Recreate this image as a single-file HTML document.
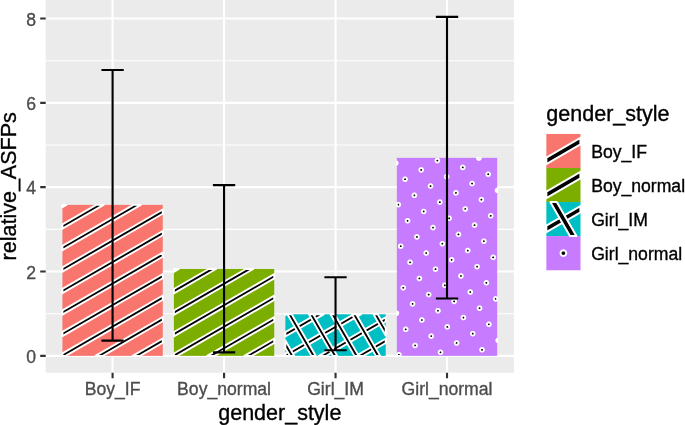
<!DOCTYPE html>
<html><head><meta charset="utf-8"><style>
html,body{margin:0;padding:0;background:#fff;width:685px;height:425px;overflow:hidden;}
svg{display:block;font-family:"Liberation Sans",sans-serif;}
svg{will-change:transform}
text{stroke-width:0.35px}
</style></head><body>
<svg width="685" height="425" viewBox="0 0 685 425" font-family="Liberation Sans, sans-serif"><rect x="45.70" y="0.00" width="468.20" height="372.70" fill="#EBEBEB"/>
<line x1="45.70" x2="513.90" y1="313.68" y2="313.68" stroke="#fff" stroke-width="1.07"/>
<line x1="45.70" x2="513.90" y1="229.34" y2="229.34" stroke="#fff" stroke-width="1.07"/>
<line x1="45.70" x2="513.90" y1="145.00" y2="145.00" stroke="#fff" stroke-width="1.07"/>
<line x1="45.70" x2="513.90" y1="60.66" y2="60.66" stroke="#fff" stroke-width="1.07"/>
<line x1="45.70" x2="513.90" y1="355.85" y2="355.85" stroke="#fff" stroke-width="2.13"/>
<line x1="45.70" x2="513.90" y1="271.51" y2="271.51" stroke="#fff" stroke-width="2.13"/>
<line x1="45.70" x2="513.90" y1="187.17" y2="187.17" stroke="#fff" stroke-width="2.13"/>
<line x1="45.70" x2="513.90" y1="102.83" y2="102.83" stroke="#fff" stroke-width="2.13"/>
<line x1="45.70" x2="513.90" y1="18.49" y2="18.49" stroke="#fff" stroke-width="2.13"/>
<line x1="112.59" x2="112.59" y1="0.00" y2="372.70" stroke="#fff" stroke-width="2.13"/>
<line x1="224.06" x2="224.06" y1="0.00" y2="372.70" stroke="#fff" stroke-width="2.13"/>
<line x1="335.54" x2="335.54" y1="0.00" y2="372.70" stroke="#fff" stroke-width="2.13"/>
<line x1="447.01" x2="447.01" y1="0.00" y2="372.70" stroke="#fff" stroke-width="2.13"/>
<rect x="62.42" y="204.88" width="100.33" height="150.97" fill="#F8766D"/>
<g fill="#000" stroke="#fff" stroke-width="1.90" stroke-linejoin="round"><polygon points="62.42,204.88 66.39,204.88 62.42,207.18"/><polygon points="62.42,224.38 96.19,204.88 103.63,204.88 62.42,228.68"/><polygon points="62.42,245.88 133.43,204.88 140.87,204.88 62.42,250.18"/><polygon points="62.42,267.38 162.75,209.46 162.75,213.75 62.42,271.68"/><polygon points="62.42,288.88 162.75,230.96 162.75,235.25 62.42,293.18"/><polygon points="62.42,310.38 162.75,252.46 162.75,256.75 62.42,314.68"/><polygon points="62.42,331.88 162.75,273.96 162.75,278.25 62.42,336.18"/><polygon points="62.42,355.85 62.42,353.38 162.75,295.46 162.75,299.75 65.59,355.85"/><polygon points="95.39,355.85 162.75,316.96 162.75,321.25 102.83,355.85"/><polygon points="132.63,355.85 162.75,338.46 162.75,342.76 140.07,355.85"/></g>
<rect x="173.90" y="268.98" width="100.33" height="86.87" fill="#7CAE00"/>
<g fill="#000" stroke="#fff" stroke-width="1.90" stroke-linejoin="round"><polygon points="173.90,268.98 178.81,268.98 173.90,271.82"/><polygon points="173.90,289.02 208.61,268.98 216.05,268.98 173.90,293.32"/><polygon points="173.90,310.52 245.85,268.98 253.29,268.98 173.90,314.82"/><polygon points="173.90,332.02 274.23,274.10 274.23,278.39 173.90,336.32"/><polygon points="173.90,355.85 173.90,353.52 274.23,295.60 274.23,299.89 177.31,355.85"/><polygon points="207.11,355.85 274.23,317.10 274.23,321.40 214.55,355.85"/><polygon points="244.35,355.85 274.23,338.60 274.23,342.90 251.79,355.85"/></g>
<rect x="285.37" y="314.31" width="100.33" height="41.54" fill="#00BFC4"/>
<g fill="#000" stroke="#fff" stroke-width="1.90" stroke-linejoin="round"><polygon points="285.37,314.31 286.49,314.31 285.37,314.96"/><polygon points="285.37,332.16 316.29,314.31 323.73,314.31 285.37,336.46"/><polygon points="285.37,355.85 285.37,353.66 353.53,314.31 360.97,314.31 289.03,355.85"/><polygon points="318.83,355.85 385.70,317.24 385.70,321.54 326.27,355.85"/><polygon points="356.07,355.85 385.70,338.74 385.70,343.04 363.51,355.85"/><polygon points="289.92,355.85 285.37,347.97 285.37,340.53 294.22,355.85"/><polygon points="311.42,355.85 287.44,314.31 291.73,314.31 315.72,355.85"/><polygon points="332.92,355.85 308.94,314.31 313.24,314.31 337.22,355.85"/><polygon points="354.42,355.85 330.44,314.31 334.74,314.31 358.72,355.85"/><polygon points="375.92,355.85 351.94,314.31 356.24,314.31 380.22,355.85"/><polygon points="385.70,335.55 373.44,314.31 377.74,314.31 385.70,328.11"/></g>
<rect x="396.85" y="157.86" width="100.33" height="197.99" fill="#C77CFF"/>
<g fill="#000" stroke="#fff" stroke-width="1.90" stroke-linejoin="round"><polygon points="400.80,354.75 400.75,355.16 400.61,355.56 400.43,355.85 397.44,355.85 397.26,355.56 397.12,355.16 397.08,354.75 397.12,354.34 397.26,353.94 397.48,353.59 397.78,353.30 398.13,353.07 398.52,352.94 398.94,352.89 399.35,352.94 399.74,353.07 400.10,353.30 400.39,353.59 400.61,353.94 400.75,354.34"/><polygon points="398.30,313.19 398.25,313.60 398.12,314.00 397.89,314.35 397.60,314.64 397.25,314.86 396.85,315.00 396.85,315.00 396.85,311.37 396.85,311.38 397.25,311.51 397.60,311.73 397.89,312.03 398.12,312.38 398.25,312.77"/><polygon points="407.61,329.31 407.56,329.73 407.43,330.12 407.20,330.47 406.91,330.77 406.56,330.99 406.16,331.13 405.75,331.17 405.34,331.13 404.94,330.99 404.59,330.77 404.30,330.47 404.07,330.12 403.94,329.73 403.89,329.31 403.94,328.90 404.07,328.51 404.30,328.15 404.59,327.86 404.94,327.64 405.34,327.50 405.75,327.45 406.16,327.50 406.56,327.64 406.91,327.86 407.20,328.15 407.43,328.51 407.56,328.90"/><polygon points="416.92,345.44 416.87,345.85 416.74,346.25 416.51,346.60 416.22,346.89 415.87,347.12 415.47,347.25 415.06,347.30 414.65,347.25 414.25,347.12 413.90,346.89 413.61,346.60 413.38,346.25 413.25,345.85 413.20,345.44 413.25,345.03 413.38,344.63 413.61,344.28 413.90,343.99 414.25,343.76 414.65,343.63 415.06,343.58 415.47,343.63 415.87,343.76 416.22,343.99 416.51,344.28 416.74,344.63 416.87,345.03"/><polygon points="405.12,287.75 405.07,288.17 404.93,288.56 404.71,288.91 404.42,289.21 404.06,289.43 403.67,289.57 403.26,289.61 402.84,289.57 402.45,289.43 402.10,289.21 401.80,288.91 401.58,288.56 401.44,288.17 401.40,287.75 401.44,287.34 401.58,286.95 401.80,286.59 402.10,286.30 402.45,286.08 402.84,285.94 403.26,285.89 403.67,285.94 404.06,286.08 404.42,286.30 404.71,286.59 404.93,286.95 405.07,287.34"/><polygon points="414.43,303.88 414.38,304.29 414.24,304.69 414.02,305.04 413.73,305.33 413.37,305.55 412.98,305.69 412.57,305.74 412.15,305.69 411.76,305.55 411.41,305.33 411.11,305.04 410.89,304.69 410.75,304.29 410.71,303.88 410.75,303.46 410.89,303.07 411.11,302.72 411.41,302.42 411.76,302.20 412.15,302.07 412.57,302.02 412.98,302.07 413.37,302.20 413.73,302.42 414.02,302.72 414.24,303.07 414.38,303.46"/><polygon points="423.74,320.00 423.69,320.42 423.55,320.81 423.33,321.16 423.04,321.46 422.68,321.68 422.29,321.82 421.88,321.86 421.46,321.82 421.07,321.68 420.72,321.46 420.42,321.16 420.20,320.81 420.06,320.42 420.02,320.00 420.06,319.59 420.20,319.20 420.42,318.84 420.72,318.55 421.07,318.33 421.46,318.19 421.88,318.14 422.29,318.19 422.68,318.33 423.04,318.55 423.33,318.84 423.55,319.20 423.69,319.59"/><polygon points="433.05,336.13 433.00,336.54 432.86,336.94 432.64,337.29 432.35,337.58 431.99,337.81 431.60,337.94 431.19,337.99 430.77,337.94 430.38,337.81 430.03,337.58 429.73,337.29 429.51,336.94 429.37,336.54 429.33,336.13 429.37,335.72 429.51,335.32 429.73,334.97 430.03,334.68 430.38,334.45 430.77,334.32 431.19,334.27 431.60,334.32 431.99,334.45 432.35,334.68 432.64,334.97 432.86,335.32 433.00,335.72"/><polygon points="442.36,352.25 442.31,352.67 442.17,353.06 441.95,353.41 441.66,353.71 441.30,353.93 440.91,354.07 440.50,354.11 440.08,354.07 439.69,353.93 439.34,353.71 439.04,353.41 438.82,353.06 438.68,352.67 438.64,352.25 438.68,351.84 438.82,351.45 439.04,351.10 439.34,350.80 439.69,350.58 440.08,350.44 440.50,350.39 440.91,350.44 441.30,350.58 441.66,350.80 441.95,351.10 442.17,351.45 442.31,351.84"/><polygon points="402.62,246.19 402.57,246.61 402.44,247.00 402.22,247.35 401.92,247.65 401.57,247.87 401.18,248.01 400.76,248.05 400.35,248.01 399.95,247.87 399.60,247.65 399.31,247.35 399.09,247.00 398.95,246.61 398.90,246.19 398.95,245.78 399.09,245.39 399.31,245.03 399.60,244.74 399.95,244.52 400.35,244.38 400.76,244.33 401.18,244.38 401.57,244.52 401.92,244.74 402.22,245.03 402.44,245.39 402.57,245.78"/><polygon points="411.93,262.32 411.88,262.73 411.75,263.12 411.53,263.48 411.23,263.77 410.88,263.99 410.49,264.13 410.07,264.18 409.66,264.13 409.26,263.99 408.91,263.77 408.62,263.48 408.40,263.12 408.26,262.73 408.21,262.32 408.26,261.90 408.40,261.51 408.62,261.16 408.91,260.86 409.26,260.64 409.66,260.50 410.07,260.46 410.49,260.50 410.88,260.64 411.23,260.86 411.53,261.16 411.75,261.51 411.88,261.90"/><polygon points="421.24,278.44 421.19,278.86 421.06,279.25 420.84,279.60 420.54,279.90 420.19,280.12 419.80,280.26 419.38,280.30 418.97,280.26 418.57,280.12 418.22,279.90 417.93,279.60 417.71,279.25 417.57,278.86 417.52,278.44 417.57,278.03 417.71,277.64 417.93,277.28 418.22,276.99 418.57,276.77 418.97,276.63 419.38,276.58 419.80,276.63 420.19,276.77 420.54,276.99 420.84,277.28 421.06,277.64 421.19,278.03"/><polygon points="430.55,294.57 430.50,294.98 430.37,295.38 430.15,295.73 429.85,296.02 429.50,296.24 429.11,296.38 428.69,296.43 428.28,296.38 427.88,296.24 427.53,296.02 427.24,295.73 427.02,295.38 426.88,294.98 426.83,294.57 426.88,294.15 427.02,293.76 427.24,293.41 427.53,293.11 427.88,292.89 428.28,292.76 428.69,292.71 429.11,292.76 429.50,292.89 429.85,293.11 430.15,293.41 430.37,293.76 430.50,294.15"/><polygon points="439.86,310.69 439.81,311.11 439.68,311.50 439.46,311.85 439.16,312.15 438.81,312.37 438.42,312.51 438.00,312.55 437.59,312.51 437.19,312.37 436.84,312.15 436.55,311.85 436.33,311.50 436.19,311.11 436.14,310.69 436.19,310.28 436.33,309.89 436.55,309.53 436.84,309.24 437.19,309.02 437.59,308.88 438.00,308.83 438.42,308.88 438.81,309.02 439.16,309.24 439.46,309.53 439.68,309.89 439.81,310.28"/><polygon points="449.17,326.82 449.12,327.23 448.99,327.63 448.77,327.98 448.47,328.27 448.12,328.50 447.73,328.63 447.31,328.68 446.90,328.63 446.50,328.50 446.15,328.27 445.86,327.98 445.64,327.63 445.50,327.23 445.45,326.82 445.50,326.41 445.64,326.01 445.86,325.66 446.15,325.37 446.50,325.14 446.90,325.01 447.31,324.96 447.73,325.01 448.12,325.14 448.47,325.37 448.77,325.66 448.99,326.01 449.12,326.41"/><polygon points="458.48,342.94 458.43,343.36 458.30,343.75 458.08,344.10 457.78,344.40 457.43,344.62 457.04,344.76 456.62,344.80 456.21,344.76 455.81,344.62 455.46,344.40 455.17,344.10 454.95,343.75 454.81,343.36 454.76,342.94 454.81,342.53 454.95,342.14 455.17,341.79 455.46,341.49 455.81,341.27 456.21,341.13 456.62,341.08 457.04,341.13 457.43,341.27 457.78,341.49 458.08,341.79 458.30,342.14 458.43,342.53"/><polygon points="400.13,204.63 400.08,205.05 399.94,205.44 399.72,205.79 399.43,206.09 399.07,206.31 398.68,206.44 398.27,206.49 397.85,206.44 397.46,206.31 397.11,206.09 396.85,205.83 396.85,203.43 397.11,203.18 397.46,202.96 397.85,202.82 398.27,202.77 398.68,202.82 399.07,202.96 399.43,203.18 399.72,203.47 399.94,203.82 400.08,204.22"/><polygon points="409.44,220.76 409.39,221.17 409.25,221.56 409.03,221.92 408.74,222.21 408.38,222.43 407.99,222.57 407.58,222.62 407.16,222.57 406.77,222.43 406.42,222.21 406.12,221.92 405.90,221.56 405.76,221.17 405.72,220.76 405.76,220.34 405.90,219.95 406.12,219.60 406.42,219.30 406.77,219.08 407.16,218.94 407.58,218.90 407.99,218.94 408.38,219.08 408.74,219.30 409.03,219.60 409.25,219.95 409.39,220.34"/><polygon points="418.75,236.88 418.70,237.30 418.56,237.69 418.34,238.04 418.05,238.34 417.69,238.56 417.30,238.70 416.89,238.74 416.47,238.70 416.08,238.56 415.73,238.34 415.43,238.04 415.21,237.69 415.07,237.30 415.03,236.88 415.07,236.47 415.21,236.08 415.43,235.72 415.73,235.43 416.08,235.21 416.47,235.07 416.89,235.02 417.30,235.07 417.69,235.21 418.05,235.43 418.34,235.72 418.56,236.08 418.70,236.47"/><polygon points="428.06,253.01 428.01,253.42 427.87,253.81 427.65,254.17 427.36,254.46 427.00,254.68 426.61,254.82 426.20,254.87 425.78,254.82 425.39,254.68 425.04,254.46 424.74,254.17 424.52,253.81 424.38,253.42 424.34,253.01 424.38,252.59 424.52,252.20 424.74,251.85 425.04,251.55 425.39,251.33 425.78,251.19 426.20,251.15 426.61,251.19 427.00,251.33 427.36,251.55 427.65,251.85 427.87,252.20 428.01,252.59"/><polygon points="437.37,269.13 437.32,269.55 437.18,269.94 436.96,270.29 436.67,270.59 436.31,270.81 435.92,270.95 435.51,270.99 435.09,270.95 434.70,270.81 434.35,270.59 434.05,270.29 433.83,269.94 433.69,269.55 433.65,269.13 433.69,268.72 433.83,268.33 434.05,267.97 434.35,267.68 434.70,267.46 435.09,267.32 435.51,267.27 435.92,267.32 436.31,267.46 436.67,267.68 436.96,267.97 437.18,268.33 437.32,268.72"/><polygon points="446.68,285.26 446.63,285.67 446.49,286.07 446.27,286.42 445.98,286.71 445.62,286.93 445.23,287.07 444.82,287.12 444.40,287.07 444.01,286.93 443.66,286.71 443.36,286.42 443.14,286.07 443.00,285.67 442.96,285.26 443.00,284.84 443.14,284.45 443.36,284.10 443.66,283.80 444.01,283.58 444.40,283.45 444.82,283.40 445.23,283.45 445.62,283.58 445.98,283.80 446.27,284.10 446.49,284.45 446.63,284.84"/><polygon points="455.99,301.38 455.94,301.80 455.80,302.19 455.58,302.54 455.29,302.84 454.93,303.06 454.54,303.20 454.13,303.24 453.71,303.20 453.32,303.06 452.97,302.84 452.67,302.54 452.45,302.19 452.31,301.80 452.27,301.38 452.31,300.97 452.45,300.58 452.67,300.22 452.97,299.93 453.32,299.71 453.71,299.57 454.13,299.52 454.54,299.57 454.93,299.71 455.29,299.93 455.58,300.22 455.80,300.58 455.94,300.97"/><polygon points="465.30,317.51 465.25,317.92 465.11,318.32 464.89,318.67 464.60,318.96 464.24,319.19 463.85,319.32 463.44,319.37 463.02,319.32 462.63,319.19 462.28,318.96 461.98,318.67 461.76,318.32 461.62,317.92 461.58,317.51 461.62,317.10 461.76,316.70 461.98,316.35 462.28,316.06 462.63,315.83 463.02,315.70 463.44,315.65 463.85,315.70 464.24,315.83 464.60,316.06 464.89,316.35 465.11,316.70 465.25,317.10"/><polygon points="474.61,333.63 474.56,334.05 474.42,334.44 474.20,334.79 473.91,335.09 473.55,335.31 473.16,335.45 472.75,335.49 472.33,335.45 471.94,335.31 471.59,335.09 471.29,334.79 471.07,334.44 470.93,334.05 470.89,333.63 470.93,333.22 471.07,332.83 471.29,332.48 471.59,332.18 471.94,331.96 472.33,331.82 472.75,331.77 473.16,331.82 473.55,331.96 473.91,332.18 474.20,332.48 474.42,332.83 474.56,333.22"/><polygon points="483.92,349.76 483.87,350.17 483.73,350.57 483.51,350.92 483.22,351.21 482.86,351.44 482.47,351.57 482.06,351.62 481.64,351.57 481.25,351.44 480.90,351.21 480.60,350.92 480.38,350.57 480.24,350.17 480.20,349.76 480.24,349.35 480.38,348.95 480.60,348.60 480.90,348.31 481.25,348.08 481.64,347.95 482.06,347.90 482.47,347.95 482.86,348.08 483.22,348.31 483.51,348.60 483.73,348.95 483.87,349.35"/><polygon points="397.63,163.07 397.59,163.48 397.45,163.88 397.23,164.23 396.93,164.52 396.85,164.58 396.85,161.57 396.93,161.62 397.23,161.91 397.45,162.26 397.59,162.66"/><polygon points="406.94,179.20 406.90,179.61 406.76,180.00 406.54,180.36 406.24,180.65 405.89,180.87 405.50,181.01 405.08,181.06 404.67,181.01 404.28,180.87 403.92,180.65 403.63,180.36 403.41,180.00 403.27,179.61 403.22,179.20 403.27,178.78 403.41,178.39 403.63,178.04 403.92,177.74 404.28,177.52 404.67,177.38 405.08,177.34 405.50,177.38 405.89,177.52 406.24,177.74 406.54,178.04 406.76,178.39 406.90,178.78"/><polygon points="416.25,195.32 416.21,195.74 416.07,196.13 415.85,196.48 415.55,196.78 415.20,197.00 414.81,197.13 414.39,197.18 413.98,197.13 413.59,197.00 413.23,196.78 412.94,196.48 412.72,196.13 412.58,195.74 412.53,195.32 412.58,194.91 412.72,194.51 412.94,194.16 413.23,193.87 413.59,193.65 413.98,193.51 414.39,193.46 414.81,193.51 415.20,193.65 415.55,193.87 415.85,194.16 416.07,194.51 416.21,194.91"/><polygon points="425.56,211.45 425.52,211.86 425.38,212.25 425.16,212.61 424.86,212.90 424.51,213.12 424.12,213.26 423.70,213.31 423.29,213.26 422.90,213.12 422.54,212.90 422.25,212.61 422.03,212.25 421.89,211.86 421.84,211.45 421.89,211.03 422.03,210.64 422.25,210.29 422.54,209.99 422.90,209.77 423.29,209.63 423.70,209.59 424.12,209.63 424.51,209.77 424.86,209.99 425.16,210.29 425.38,210.64 425.52,211.03"/><polygon points="434.87,227.57 434.83,227.99 434.69,228.38 434.47,228.73 434.17,229.03 433.82,229.25 433.43,229.39 433.01,229.43 432.60,229.39 432.21,229.25 431.85,229.03 431.56,228.73 431.34,228.38 431.20,227.99 431.15,227.57 431.20,227.16 431.34,226.77 431.56,226.41 431.85,226.12 432.21,225.90 432.60,225.76 433.01,225.71 433.43,225.76 433.82,225.90 434.17,226.12 434.47,226.41 434.69,226.77 434.83,227.16"/><polygon points="444.18,243.70 444.14,244.11 444.00,244.50 443.78,244.86 443.48,245.15 443.13,245.37 442.74,245.51 442.32,245.56 441.91,245.51 441.52,245.37 441.16,245.15 440.87,244.86 440.65,244.50 440.51,244.11 440.46,243.70 440.51,243.28 440.65,242.89 440.87,242.54 441.16,242.24 441.52,242.02 441.91,241.88 442.32,241.84 442.74,241.88 443.13,242.02 443.48,242.24 443.78,242.54 444.00,242.89 444.14,243.28"/><polygon points="453.49,259.82 453.45,260.24 453.31,260.63 453.09,260.98 452.79,261.28 452.44,261.50 452.05,261.64 451.63,261.68 451.22,261.64 450.83,261.50 450.47,261.28 450.18,260.98 449.96,260.63 449.82,260.24 449.77,259.82 449.82,259.41 449.96,259.02 450.18,258.66 450.47,258.37 450.83,258.15 451.22,258.01 451.63,257.96 452.05,258.01 452.44,258.15 452.79,258.37 453.09,258.66 453.31,259.02 453.45,259.41"/><polygon points="462.80,275.95 462.76,276.36 462.62,276.76 462.40,277.11 462.10,277.40 461.75,277.62 461.36,277.76 460.94,277.81 460.53,277.76 460.14,277.62 459.78,277.40 459.49,277.11 459.27,276.76 459.13,276.36 459.08,275.95 459.13,275.53 459.27,275.14 459.49,274.79 459.78,274.49 460.14,274.27 460.53,274.14 460.94,274.09 461.36,274.14 461.75,274.27 462.10,274.49 462.40,274.79 462.62,275.14 462.76,275.53"/><polygon points="472.11,292.07 472.07,292.49 471.93,292.88 471.71,293.23 471.41,293.53 471.06,293.75 470.67,293.89 470.25,293.93 469.84,293.89 469.45,293.75 469.09,293.53 468.80,293.23 468.58,292.88 468.44,292.49 468.39,292.07 468.44,291.66 468.58,291.27 468.80,290.91 469.09,290.62 469.45,290.40 469.84,290.26 470.25,290.21 470.67,290.26 471.06,290.40 471.41,290.62 471.71,290.91 471.93,291.27 472.07,291.66"/><polygon points="481.42,308.20 481.38,308.61 481.24,309.01 481.02,309.36 480.72,309.65 480.37,309.88 479.98,310.01 479.56,310.06 479.15,310.01 478.76,309.88 478.40,309.65 478.11,309.36 477.89,309.01 477.75,308.61 477.70,308.20 477.75,307.79 477.89,307.39 478.11,307.04 478.40,306.75 478.76,306.52 479.15,306.39 479.56,306.34 479.98,306.39 480.37,306.52 480.72,306.75 481.02,307.04 481.24,307.39 481.38,307.79"/><polygon points="490.73,324.32 490.69,324.74 490.55,325.13 490.33,325.48 490.03,325.78 489.68,326.00 489.29,326.14 488.87,326.18 488.46,326.14 488.07,326.00 487.71,325.78 487.42,325.48 487.20,325.13 487.06,324.74 487.01,324.32 487.06,323.91 487.20,323.52 487.42,323.17 487.71,322.87 488.07,322.65 488.46,322.51 488.87,322.46 489.29,322.51 489.68,322.65 490.03,322.87 490.33,323.17 490.55,323.52 490.69,323.91"/><polygon points="497.18,342.00 497.02,341.90 496.73,341.61 496.51,341.26 496.37,340.86 496.32,340.45 496.37,340.04 496.51,339.64 496.73,339.29 497.02,339.00 497.18,338.90"/><polygon points="423.07,169.89 423.02,170.30 422.88,170.69 422.66,171.05 422.37,171.34 422.01,171.56 421.62,171.70 421.21,171.75 420.79,171.70 420.40,171.56 420.05,171.34 419.75,171.05 419.53,170.69 419.39,170.30 419.35,169.89 419.39,169.47 419.53,169.08 419.75,168.73 420.05,168.43 420.40,168.21 420.79,168.07 421.21,168.03 421.62,168.07 422.01,168.21 422.37,168.43 422.66,168.73 422.88,169.08 423.02,169.47"/><polygon points="432.38,186.01 432.33,186.43 432.19,186.82 431.97,187.17 431.68,187.47 431.32,187.69 430.93,187.82 430.52,187.87 430.10,187.82 429.71,187.69 429.36,187.47 429.06,187.17 428.84,186.82 428.70,186.43 428.66,186.01 428.70,185.60 428.84,185.20 429.06,184.85 429.36,184.56 429.71,184.34 430.10,184.20 430.52,184.15 430.93,184.20 431.32,184.34 431.68,184.56 431.97,184.85 432.19,185.20 432.33,185.60"/><polygon points="441.69,202.14 441.64,202.55 441.50,202.94 441.28,203.30 440.99,203.59 440.63,203.81 440.24,203.95 439.83,204.00 439.41,203.95 439.02,203.81 438.67,203.59 438.37,203.30 438.15,202.94 438.01,202.55 437.97,202.14 438.01,201.72 438.15,201.33 438.37,200.98 438.67,200.68 439.02,200.46 439.41,200.32 439.83,200.28 440.24,200.32 440.63,200.46 440.99,200.68 441.28,200.98 441.50,201.33 441.64,201.72"/><polygon points="451.00,218.26 450.95,218.68 450.81,219.07 450.59,219.42 450.30,219.72 449.94,219.94 449.55,220.08 449.14,220.12 448.72,220.08 448.33,219.94 447.98,219.72 447.68,219.42 447.46,219.07 447.32,218.68 447.28,218.26 447.32,217.85 447.46,217.46 447.68,217.10 447.98,216.81 448.33,216.59 448.72,216.45 449.14,216.40 449.55,216.45 449.94,216.59 450.30,216.81 450.59,217.10 450.81,217.46 450.95,217.85"/><polygon points="460.31,234.39 460.26,234.80 460.12,235.19 459.90,235.55 459.61,235.84 459.25,236.06 458.86,236.20 458.45,236.25 458.03,236.20 457.64,236.06 457.29,235.84 456.99,235.55 456.77,235.19 456.63,234.80 456.59,234.39 456.63,233.97 456.77,233.58 456.99,233.23 457.29,232.93 457.64,232.71 458.03,232.57 458.45,232.53 458.86,232.57 459.25,232.71 459.61,232.93 459.90,233.23 460.12,233.58 460.26,233.97"/><polygon points="469.62,250.51 469.57,250.93 469.43,251.32 469.21,251.67 468.92,251.97 468.56,252.19 468.17,252.33 467.76,252.37 467.34,252.33 466.95,252.19 466.60,251.97 466.30,251.67 466.08,251.32 465.94,250.93 465.90,250.51 465.94,250.10 466.08,249.71 466.30,249.35 466.60,249.06 466.95,248.84 467.34,248.70 467.76,248.65 468.17,248.70 468.56,248.84 468.92,249.06 469.21,249.35 469.43,249.71 469.57,250.10"/><polygon points="478.93,266.64 478.88,267.05 478.74,267.45 478.52,267.80 478.23,268.09 477.87,268.31 477.48,268.45 477.07,268.50 476.65,268.45 476.26,268.31 475.91,268.09 475.61,267.80 475.39,267.45 475.25,267.05 475.21,266.64 475.25,266.22 475.39,265.83 475.61,265.48 475.91,265.18 476.26,264.96 476.65,264.83 477.07,264.78 477.48,264.83 477.87,264.96 478.23,265.18 478.52,265.48 478.74,265.83 478.88,266.22"/><polygon points="488.24,282.76 488.19,283.18 488.05,283.57 487.83,283.92 487.54,284.22 487.18,284.44 486.79,284.58 486.38,284.62 485.96,284.58 485.57,284.44 485.22,284.22 484.92,283.92 484.70,283.57 484.56,283.18 484.52,282.76 484.56,282.35 484.70,281.96 484.92,281.60 485.22,281.31 485.57,281.09 485.96,280.95 486.38,280.90 486.79,280.95 487.18,281.09 487.54,281.31 487.83,281.60 488.05,281.96 488.19,282.35"/><polygon points="497.18,299.99 497.14,300.05 496.85,300.34 496.49,300.57 496.10,300.70 495.69,300.75 495.27,300.70 494.88,300.57 494.53,300.34 494.23,300.05 494.01,299.70 493.87,299.30 493.83,298.89 493.87,298.48 494.01,298.08 494.23,297.73 494.53,297.44 494.88,297.21 495.27,297.08 495.69,297.03 496.10,297.08 496.49,297.21 496.85,297.44 497.14,297.73 497.18,297.79"/><polygon points="439.19,160.58 439.15,160.99 439.01,161.38 438.79,161.74 438.49,162.03 438.14,162.25 437.75,162.39 437.33,162.44 436.92,162.39 436.53,162.25 436.17,162.03 435.88,161.74 435.66,161.38 435.52,160.99 435.47,160.58 435.52,160.16 435.66,159.77 435.88,159.42 436.17,159.12 436.53,158.90 436.92,158.76 437.33,158.72 437.75,158.76 438.14,158.90 438.49,159.12 438.79,159.42 439.01,159.77 439.15,160.16"/><polygon points="448.50,176.70 448.46,177.12 448.32,177.51 448.10,177.86 447.80,178.16 447.45,178.38 447.06,178.51 446.64,178.56 446.23,178.51 445.84,178.38 445.48,178.16 445.19,177.86 444.97,177.51 444.83,177.12 444.78,176.70 444.83,176.29 444.97,175.89 445.19,175.54 445.48,175.25 445.84,175.03 446.23,174.89 446.64,174.84 447.06,174.89 447.45,175.03 447.80,175.25 448.10,175.54 448.32,175.89 448.46,176.29"/><polygon points="457.81,192.83 457.77,193.24 457.63,193.63 457.41,193.99 457.11,194.28 456.76,194.50 456.37,194.64 455.95,194.69 455.54,194.64 455.15,194.50 454.79,194.28 454.50,193.99 454.28,193.63 454.14,193.24 454.09,192.83 454.14,192.41 454.28,192.02 454.50,191.67 454.79,191.37 455.15,191.15 455.54,191.01 455.95,190.97 456.37,191.01 456.76,191.15 457.11,191.37 457.41,191.67 457.63,192.02 457.77,192.41"/><polygon points="467.12,208.95 467.08,209.37 466.94,209.76 466.72,210.11 466.42,210.41 466.07,210.63 465.68,210.77 465.26,210.81 464.85,210.77 464.46,210.63 464.10,210.41 463.81,210.11 463.59,209.76 463.45,209.37 463.40,208.95 463.45,208.54 463.59,208.15 463.81,207.79 464.10,207.50 464.46,207.28 464.85,207.14 465.26,207.09 465.68,207.14 466.07,207.28 466.42,207.50 466.72,207.79 466.94,208.15 467.08,208.54"/><polygon points="476.43,225.08 476.39,225.49 476.25,225.88 476.03,226.24 475.73,226.53 475.38,226.75 474.99,226.89 474.57,226.94 474.16,226.89 473.77,226.75 473.41,226.53 473.12,226.24 472.90,225.88 472.76,225.49 472.71,225.08 472.76,224.66 472.90,224.27 473.12,223.92 473.41,223.62 473.77,223.40 474.16,223.26 474.57,223.22 474.99,223.26 475.38,223.40 475.73,223.62 476.03,223.92 476.25,224.27 476.39,224.66"/><polygon points="485.74,241.20 485.70,241.62 485.56,242.01 485.34,242.36 485.04,242.66 484.69,242.88 484.30,243.02 483.88,243.06 483.47,243.02 483.08,242.88 482.72,242.66 482.43,242.36 482.21,242.01 482.07,241.62 482.02,241.20 482.07,240.79 482.21,240.40 482.43,240.04 482.72,239.75 483.08,239.53 483.47,239.39 483.88,239.34 484.30,239.39 484.69,239.53 485.04,239.75 485.34,240.04 485.56,240.40 485.70,240.79"/><polygon points="495.05,257.33 495.01,257.74 494.87,258.14 494.65,258.49 494.35,258.78 494.00,259.00 493.61,259.14 493.19,259.19 492.78,259.14 492.39,259.00 492.03,258.78 491.74,258.49 491.52,258.14 491.38,257.74 491.33,257.33 491.38,256.91 491.52,256.52 491.74,256.17 492.03,255.87 492.39,255.65 492.78,255.52 493.19,255.47 493.61,255.52 494.00,255.65 494.35,255.87 494.65,256.17 494.87,256.52 495.01,256.91"/><polygon points="464.63,167.39 464.58,167.81 464.44,168.20 464.22,168.55 463.93,168.85 463.58,169.07 463.18,169.20 462.77,169.25 462.35,169.20 461.96,169.07 461.61,168.85 461.31,168.55 461.09,168.20 460.96,167.81 460.91,167.39 460.96,166.98 461.09,166.58 461.31,166.23 461.61,165.94 461.96,165.72 462.35,165.58 462.77,165.53 463.18,165.58 463.58,165.72 463.93,165.94 464.22,166.23 464.44,166.58 464.58,166.98"/><polygon points="473.94,183.52 473.89,183.93 473.75,184.32 473.53,184.68 473.24,184.97 472.89,185.19 472.49,185.33 472.08,185.38 471.66,185.33 471.27,185.19 470.92,184.97 470.62,184.68 470.40,184.32 470.27,183.93 470.22,183.52 470.27,183.10 470.40,182.71 470.62,182.36 470.92,182.06 471.27,181.84 471.66,181.70 472.08,181.66 472.49,181.70 472.89,181.84 473.24,182.06 473.53,182.36 473.75,182.71 473.89,183.10"/><polygon points="483.25,199.64 483.20,200.06 483.06,200.45 482.84,200.80 482.55,201.10 482.20,201.32 481.80,201.46 481.39,201.50 480.97,201.46 480.58,201.32 480.23,201.10 479.93,200.80 479.71,200.45 479.58,200.06 479.53,199.64 479.58,199.23 479.71,198.84 479.93,198.48 480.23,198.19 480.58,197.97 480.97,197.83 481.39,197.78 481.80,197.83 482.20,197.97 482.55,198.19 482.84,198.48 483.06,198.84 483.20,199.23"/><polygon points="492.56,215.77 492.51,216.18 492.37,216.57 492.15,216.93 491.86,217.22 491.51,217.44 491.11,217.58 490.70,217.63 490.28,217.58 489.89,217.44 489.54,217.22 489.24,216.93 489.02,216.57 488.89,216.18 488.84,215.77 488.89,215.35 489.02,214.96 489.24,214.61 489.54,214.31 489.89,214.09 490.28,213.95 490.70,213.91 491.11,213.95 491.51,214.09 491.86,214.31 492.15,214.61 492.37,214.96 492.51,215.35"/><polygon points="480.73,157.86 480.75,158.08 480.71,158.50 480.57,158.89 480.35,159.24 480.05,159.54 479.70,159.76 479.31,159.89 478.89,159.94 478.48,159.89 478.09,159.76 477.73,159.54 477.44,159.24 477.22,158.89 477.08,158.50 477.03,158.08 477.06,157.86"/><polygon points="490.06,174.21 490.02,174.62 489.88,175.01 489.66,175.37 489.36,175.66 489.01,175.88 488.62,176.02 488.20,176.07 487.79,176.02 487.40,175.88 487.04,175.66 486.75,175.37 486.53,175.01 486.39,174.62 486.34,174.21 486.39,173.79 486.53,173.40 486.75,173.05 487.04,172.75 487.40,172.53 487.79,172.39 488.20,172.35 488.62,172.39 489.01,172.53 489.36,172.75 489.66,173.05 489.88,173.40 490.02,173.79"/><polygon points="497.18,192.15 497.10,192.15 496.71,192.01 496.35,191.79 496.06,191.49 495.84,191.14 495.70,190.75 495.65,190.33 495.70,189.92 495.84,189.53 496.06,189.17 496.35,188.88 496.71,188.66 497.10,188.52 497.18,188.51"/></g>
<path d="M101.44 69.94H123.73M112.59 69.94V340.67M101.44 340.67H123.73" stroke="#000" stroke-width="2.13" fill="none"/>
<path d="M212.91 185.06H235.21M224.06 185.06V352.35M212.91 352.35H235.21" stroke="#000" stroke-width="2.13" fill="none"/>
<path d="M324.39 277.25H346.69M335.54 277.25V350.20M324.39 350.20H346.69" stroke="#000" stroke-width="2.13" fill="none"/>
<path d="M435.87 16.89H458.16M447.01 16.89V298.50M435.87 298.50H458.16" stroke="#000" stroke-width="2.13" fill="none"/>
<path d="M40.20 355.85H45.70M40.20 271.51H45.70M40.20 187.17H45.70M40.20 102.83H45.70M40.20 18.49H45.70M112.59 372.70V378.20M224.06 372.70V378.20M335.54 372.70V378.20M447.01 372.70V378.20" stroke="#333" stroke-width="2.13" fill="none"/>
<text x="36.1" y="362.90" text-anchor="end" font-size="17.60" fill="#4D4D4D" stroke="#4D4D4D">0</text>
<text x="36.1" y="278.56" text-anchor="end" font-size="17.60" fill="#4D4D4D" stroke="#4D4D4D">2</text>
<text x="36.1" y="194.22" text-anchor="end" font-size="17.60" fill="#4D4D4D" stroke="#4D4D4D">4</text>
<text x="36.1" y="109.88" text-anchor="end" font-size="17.60" fill="#4D4D4D" stroke="#4D4D4D">6</text>
<text x="36.1" y="25.54" text-anchor="end" font-size="17.60" fill="#4D4D4D" stroke="#4D4D4D">8</text>
<text x="112.59" y="395.4" text-anchor="middle" font-size="17.60" fill="#4D4D4D" stroke="#4D4D4D">Boy_IF</text>
<text x="224.06" y="395.4" text-anchor="middle" font-size="17.60" fill="#4D4D4D" stroke="#4D4D4D">Boy_normal</text>
<text x="335.54" y="395.4" text-anchor="middle" font-size="17.60" fill="#4D4D4D" stroke="#4D4D4D">Girl_IM</text>
<text x="447.01" y="395.4" text-anchor="middle" font-size="17.60" fill="#4D4D4D" stroke="#4D4D4D">Girl_normal</text>
<text x="279.80" y="420.3" text-anchor="middle" font-size="21.50" fill="#000" stroke="#000">gender_style</text>
<text transform="translate(16,186.35) rotate(-90)" x="0" y="0" text-anchor="middle" font-size="21.50" fill="#000" stroke="#000">relative_ASFPs</text>
<text x="546.35" y="120.65" font-size="21.50" fill="#000" stroke="#000">gender_style</text>
<rect x="546.35" y="133.95" width="34.15" height="34.15" fill="#F8766D"/>
<rect x="546.35" y="168.00" width="34.15" height="34.15" fill="#7CAE00"/>
<rect x="546.35" y="202.05" width="34.15" height="34.15" fill="#00BFC4"/>
<rect x="546.35" y="236.10" width="34.15" height="34.15" fill="#C77CFF"/>
<g fill="#000" stroke="#fff" stroke-width="2.00" stroke-linejoin="round"><polygon points="546.35,157.57 580.40,137.91 580.40,144.38 546.35,164.04"/></g>
<text x="591.2" y="157.67" font-size="17.60" fill="#000" stroke="#000">Boy_IF</text>
<g fill="#000" stroke="#fff" stroke-width="2.00" stroke-linejoin="round"><polygon points="546.35,191.62 580.40,171.96 580.40,178.43 546.35,198.09"/></g>
<text x="591.2" y="191.72" font-size="17.60" fill="#000" stroke="#000">Boy_normal</text>
<g fill="#000" stroke="#fff" stroke-width="2.00" stroke-linejoin="round"><polygon points="546.35,225.67 580.40,206.01 580.40,212.48 546.35,232.14"/><polygon points="569.97,236.10 550.31,202.05 556.78,202.05 576.44,236.10"/></g>
<text x="591.2" y="225.77" font-size="17.60" fill="#000" stroke="#000">Girl_IM</text>
<g fill="#000" stroke="#fff" stroke-width="2.00" stroke-linejoin="round"><polygon points="566.17,253.12 566.10,253.75 565.90,254.34 565.56,254.87 565.12,255.31 564.59,255.65 564.00,255.85 563.38,255.92 562.75,255.85 562.16,255.65 561.63,255.31 561.19,254.87 560.85,254.34 560.65,253.75 560.58,253.12 560.65,252.50 560.85,251.91 561.19,251.38 561.63,250.94 562.16,250.60 562.75,250.40 563.38,250.32 564.00,250.40 564.59,250.60 565.12,250.94 565.56,251.38 565.90,251.91 566.10,252.50"/></g>
<text x="591.2" y="259.82" font-size="17.60" fill="#000" stroke="#000">Girl_normal</text></svg>
</body></html>
